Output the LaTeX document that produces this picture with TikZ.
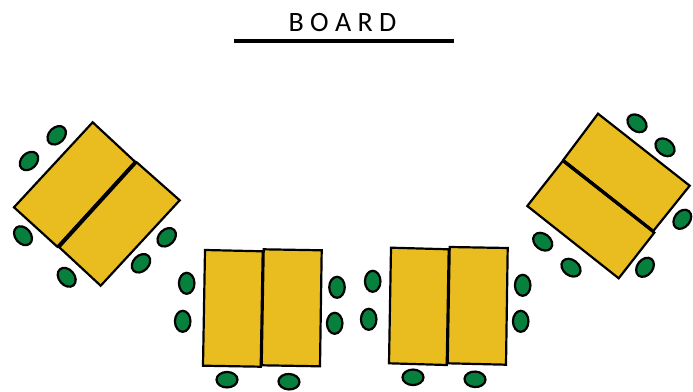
\documentclass[tikz,border=0pt]{standalone}
\usepackage{fontspec}
\setmainfont{Carlito}
\usepackage{xcolor}
\usetikzlibrary{shapes.geometric}
\definecolor{deskyellow}{HTML}{E9BD20}
\definecolor{chairgreen}{HTML}{077F3D}

\begin{document}
\begin{tikzpicture}[
  x=1pt, y=-1pt,
  desk/.style={draw=black, fill=deskyellow, line width=2.2pt, line join=miter},
  gap/.style={draw=black, line width=3.2pt},
  chair/.style={ellipse, draw=black, fill=chairgreen, line width=2.2pt, minimum width=21pt, minimum height=15.5pt, inner sep=0pt},
  boardline/.style={draw=black, line width=4pt}
]
  \useasboundingbox (0,0) rectangle (693,391);

  % board
  \node[font=\fontsize{28}{32}\selectfont, anchor=base] (board) at (342.5,31) {B O A R D};
  \coordinate (boardl) at (234,41.3);
  \coordinate (boardr) at (453.7,41.3);
  \draw[boardline] (boardl) -- (boardr);

  % left desks
  \draw[desk] (92.7,122.3) -- (135,161.7) -- (57.3,246.7) -- (14,207.3) -- cycle;
  \draw[desk] (136.7,162.3) -- (179.7,200.3) -- (100.7,285.7) -- (59.3,247.3) -- cycle;
  \draw[gap] (136,161.5) -- (58,247);

  % middle left desks
  \draw[desk] (205,250) -- (262.7,251.3) -- (260.7,366.7) -- (203,365.7) -- cycle;
  \draw[desk] (263.7,249.3) -- (321.7,250.3) -- (320,366.3) -- (261.7,365.3) -- cycle;

  % middle right desks
  \draw[desk] (391,247.7) -- (448.7,249.3) -- (446.7,365) -- (389,363.3) -- cycle;
  \draw[desk] (449.7,247) -- (507.7,248) -- (506,364.7) -- (447.7,363.3) -- cycle;

  % right desks
  \draw[desk] (598,113.7) -- (689.7,185.7) -- (653.3,231) -- (563.3,160) -- cycle;
  \draw[desk] (562.7,161) -- (654.3,232.7) -- (618.7,278.3) -- (527.3,206) -- cycle;
  \draw[gap] (563,160.5) -- (654,232);

  % chairs of the left desks
  \node[chair, rotate=45] (la) at (56.7,135.3) {};
  \node[chair, rotate=45] (lb) at (29,161) {};
  \node[chair, rotate=-50] (lc) at (23,235.7) {};
  \node[chair, rotate=-50] (ld) at (66.7,277.3) {};
  \node[chair, rotate=45] (le) at (141,263.3) {};
  \node[chair, rotate=45] (lf) at (166.7,237.3) {};

  % chairs of the middle left desks
  \node[chair, rotate=90] (ma) at (186.7,283.3) {};
  \node[chair, rotate=90] (mb) at (182.7,321.3) {};
  \node[chair, rotate=90] (mc) at (337,287.3) {};
  \node[chair, rotate=90] (md) at (334.7,323.3) {};
  \node[chair] (me) at (227,379.7) {};
  \node[chair, rotate=-3] (mf) at (289,381.7) {};

  % chairs of the middle right desks
  \node[chair, rotate=90] (na) at (372.7,281.3) {};
  \node[chair, rotate=90] (nb) at (368.7,319.3) {};
  \node[chair, rotate=90] (nc) at (522.7,285.3) {};
  \node[chair, rotate=90] (nd) at (520.7,321.3) {};
  \node[chair] (ne) at (413,377.3) {};
  \node[chair, rotate=-3] (nf) at (475,379.3) {};

  % chairs of the right desks
  \node[chair, rotate=-38] (ra) at (637,123.3) {};
  \node[chair, rotate=-38] (rb) at (665,147.3) {};
  \node[chair, rotate=52] (rc) at (682.3,219.3) {};
  \node[chair, rotate=-38] (rd) at (542.7,241.7) {};
  \node[chair, rotate=-38] (re) at (571,267.7) {};
  \node[chair, rotate=52] (rf) at (645,267.3) {};
\end{tikzpicture}
\end{document}
